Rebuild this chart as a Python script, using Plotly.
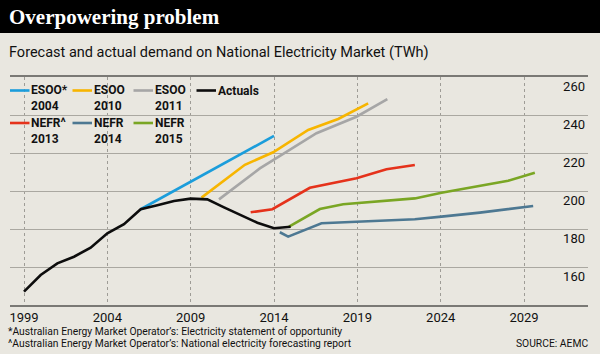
import plotly.graph_objects as go

# ---------------- data ----------------
actual_years = [1999, 2000, 2001, 2002, 2003, 2004, 2005, 2006, 2007, 2008, 2009, 2010, 2011, 2012, 2013, 2014, 2015]
actual_vals = [147.0, 155.8, 161.9, 165.4, 170.2, 177.7, 182.5, 190.4, 192.5, 194.7, 196.0, 195.6, 191.4, 187.4, 183.3, 180.4, 181.2]

esoo2004_years = [2006, 2014]
esoo2004_vals = [190.4, 229.0]

esoo2010_years = [2009.65, 2012.25, 2013.95, 2016.05, 2017.85, 2019.65]
esoo2010_vals = [196.5, 213.8, 220.4, 232.1, 237.9, 246.1]

esoo2011_years = [2010.7, 2013.15, 2013.95, 2016.55, 2018.95, 2020.8]
esoo2011_vals = [195.6, 211.9, 216.3, 230.4, 239.1, 248.4]

nefr2013_years = [2012.6, 2013.9, 2016.15, 2018.95, 2020.75, 2022.45]
nefr2013_vals = [188.8, 190.4, 201.7, 206.7, 211.4, 213.7]

nefr2014_years = [2014.35, 2014.85, 2016.85, 2019.05, 2022.45, 2024.05, 2026.35, 2029.55]
nefr2014_vals = [178.3, 176.0, 183.0, 183.9, 185.1, 186.5, 188.6, 192.1]

nefr2015_years = [2014.9, 2016.75, 2018.15, 2022.45, 2024.05, 2026.35, 2028.05, 2029.65]
nefr2015_vals = [181.2, 190.5, 193.0, 196.1, 199.1, 202.6, 205.4, 209.6]

x_ticks = [1999, 2004, 2009, 2014, 2019, 2024, 2029]
y_ticks = [160, 180, 200, 220, 240, 260]

legend_row1 = [("ESOO*", "2004"), ("ESOO", "2010"), ("ESOO", "2011"), ("Actuals", "")]
legend_row2 = [("NEFR^", "2013"), ("NEFR", "2014"), ("NEFR", "2015")]

title = "Overpowering problem"
subtitle = "Forecast and actual demand on National Electricity Market (TWh)"
note1 = "*Australian Energy Market Operator’s: Electricity statement of opportunity"
note2 = "^Australian Energy Market Operator’s: National electricity forecasting report"
source = "SOURCE: AEMC"

# ---------------- style ----------------
BG = "#E9E7E0"
C_BLUE = "#1B9DDB"
C_YEL = "#F7B500"
C_GRAY = "#A6A6A6"
C_BLACK = "#0D0D0D"
C_RED = "#E5321B"
C_STEEL = "#4D7892"
C_GREEN = "#7AA624"
FONT = "Roboto, Liberation Sans, sans-serif"

W_PX, H_PX = 600, 354
L, R, T, B = 10, 588, 77, 305
PW, PH = R - L, B - T


def px(xp):
    return (xp - L) / PW


def py(yp):
    return (B - yp) / PH


x0 = 1999 - (24 - L) / 16.667
x1 = 1999 + (R - 24) / 16.667

fig = go.Figure()

series = [
    ("ESOO* 2004", esoo2004_years, esoo2004_vals, C_BLUE),
    ("ESOO 2010", esoo2010_years, esoo2010_vals, C_YEL),
    ("ESOO 2011", esoo2011_years, esoo2011_vals, C_GRAY),
    ("NEFR^ 2013", nefr2013_years, nefr2013_vals, C_RED),
    ("NEFR 2014", nefr2014_years, nefr2014_vals, C_STEEL),
    ("NEFR 2015", nefr2015_years, nefr2015_vals, C_GREEN),
    ("Actuals", actual_years, actual_vals, C_BLACK),
]
for name, xs, ys, col in series:
    fig.add_trace(go.Scatter(x=xs, y=ys, mode="lines", name=name,
                             line=dict(color=col, width=2.6),
                             showlegend=False, hoverinfo="x+y+name"))

shapes = []
annotations = []

# header bar
shapes.append(dict(type="rect", xref="paper", yref="paper",
                   x0=px(0), x1=px(600), y0=py(33), y1=py(-2),
                   fillcolor="black", line=dict(width=0), layer="above"))
annotations.append(dict(text="<b>" + title + "</b>", xref="paper", yref="paper",
                        x=px(7), y=py(17), xanchor="left", yanchor="middle",
                        showarrow=False,
                        font=dict(family="Liberation Serif, serif", size=21, color="white")))
annotations.append(dict(text=subtitle, xref="paper", yref="paper",
                        x=px(7), y=py(52), xanchor="left", yanchor="middle",
                        showarrow=False, font=dict(family=FONT, size=14.5, color="#111")))

# legend background (hides gridlines behind legend)
shapes.append(dict(type="rect", xref="paper", yref="paper",
                   x0=px(L), x1=px(268), y0=py(150), y1=py(79),
                   fillcolor=BG, line=dict(width=0), layer="between"))

LEG_SIZE = 12
LINE_H = 1.3 * LEG_SIZE
leg_colors1 = [C_BLUE, C_YEL, C_GRAY, C_BLACK]
leg_colors2 = [C_RED, C_STEEL, C_GREEN]
col_x = [10, 72.5, 133.5, 196.5]
for items, cols, yfirst in [(legend_row1, leg_colors1, 90.5), (legend_row2, leg_colors2, 123.0)]:
    for i, ((l1, l2), c) in enumerate(zip(items, cols)):
        xs = col_x[i]
        shapes.append(dict(type="line", xref="paper", yref="paper",
                           x0=px(xs), x1=px(xs + 19.5), y0=py(yfirst), y1=py(yfirst),
                           line=dict(color=c, width=2.6), layer="above"))
        if l2:
            txt = "<b>" + l1 + "</b><br><b>" + l2 + "</b>"
            ycen = yfirst + LINE_H / 2
        else:
            txt = "<b>" + l1 + "</b>"
            ycen = yfirst
        annotations.append(dict(text=txt, xref="paper", yref="paper",
                                x=px(xs + 19), y=py(ycen), xanchor="left", yanchor="middle",
                                align="left", showarrow=False,
                                font=dict(family=FONT, size=LEG_SIZE, color="#111")))

# footnotes
annotations.append(dict(text=note1, xref="paper", yref="paper", x=px(6), y=py(331),
                        xanchor="left", yanchor="middle", showarrow=False,
                        font=dict(family=FONT, size=10.3, color="#111")))
annotations.append(dict(text=note2, xref="paper", yref="paper", x=px(6), y=py(343.5),
                        xanchor="left", yanchor="middle", showarrow=False,
                        font=dict(family=FONT, size=10.3, color="#111")))
annotations.append(dict(text=source, xref="paper", yref="paper", x=px(590), y=py(343.5),
                        xanchor="right", yanchor="middle", showarrow=False,
                        font=dict(family=FONT, size=10.3, color="#111")))

fig.update_layout(
    width=W_PX, height=H_PX,
    margin=dict(l=L, r=W_PX - R, t=T, b=H_PX - B, pad=0),
    paper_bgcolor=BG, plot_bgcolor=BG,
    shapes=shapes, annotations=annotations,
    showlegend=False,
    font=dict(family=FONT, color="#111"),
    xaxis=dict(range=[x0, x1], tickvals=x_ticks, ticktext=[str(t) for t in x_ticks],
               showgrid=True, gridcolor="#9E9C96", griddash="dot", gridwidth=1,
               zeroline=False, ticks="", showline=True, linecolor="#7A7975", linewidth=1.5,
               mirror=True, tickfont=dict(size=13, color="#111"), fixedrange=True),
    yaxis=dict(range=[140, 260], tickvals=y_ticks, side="right",
               ticklabelposition="inside bottom", showgrid=True, gridcolor="#AAA8A1",
               gridwidth=1, zeroline=False, ticks="", showline=False,
               tickfont=dict(size=13, color="#111"), fixedrange=True),
)

fig.write_html("out.html")
